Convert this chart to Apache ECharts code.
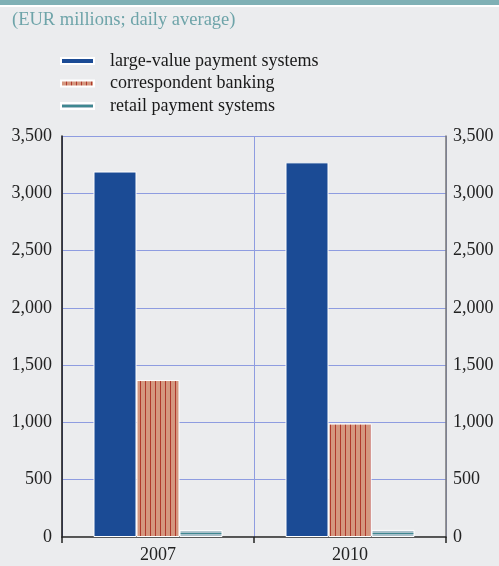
<!DOCTYPE html>
<html>
<head>
<meta charset="utf-8">
<script src="https://cdn.jsdelivr.net/npm/echarts@6/dist/echarts.min.js"></script>
<style>
  html, body { margin: 0; padding: 0; background: #ebecee; }
  #chart { width: 499px; height: 566px; }
</style>
</head>
<body>
<div id="chart"></div>
<script>
// Daily average values, EUR millions
const years = ['2007', '2010'];
const largeValue = [3190, 3270];
const correspondent = [1370, 990];
const retail = [60, 62];
const seriesNames = ['large-value payment systems', 'correspondent banking', 'retail payment systems'];
const yTicks = { min: 0, max: 3500, step: 500 };

const SERIF = '"Liberation Serif", "DejaVu Serif", serif';
const GRID = '#8e9ce0';

// vertical red stripes on salmon fill
function stripePattern() {
  const c = document.createElement('canvas');
  c.width = 5; c.height = 4;
  const g = c.getContext('2d');
  g.fillStyle = '#d4977f';
  g.fillRect(0, 0, 5, 4);
  g.fillStyle = '#b0392c';
  g.fillRect(0, 0, 1, 4);
  return { image: c, repeat: 'repeat' };
}

// light grey-blue fill with a teal rule through the middle
const retailFill = {
  type: 'linear', x: 0, y: 0, x2: 0, y2: 1,
  colorStops: [
    { offset: 0, color: '#a9c0ca' },
    { offset: 0.42, color: '#a9c0ca' },
    { offset: 0.42, color: '#3e8790' },
    { offset: 0.62, color: '#3e8790' },
    { offset: 0.62, color: '#a9c0ca' },
    { offset: 1, color: '#a9c0ca' }
  ]
};

const nLines = (yTicks.max - yTicks.min) / yTicks.step + 1;
const hLineColors = Array.from({ length: nLines }, (_, i) => i === 0 ? '#ffffff' : GRID);

const fmt = v => v.toLocaleString('en-US');

const chart = echarts.init(document.getElementById('chart'), null, { renderer: 'canvas' });

chart.setOption({
  backgroundColor: '#ebecee',
  animation: false,
  graphic: [
    { type: 'rect', shape: { x: 0, y: 0, width: 499, height: 5 }, style: { fill: '#7fb0b5' } },
    { type: 'rect', shape: { x: 0, y: 5, width: 499, height: 2 }, style: { fill: '#ffffff' } }
  ],
  title: {
    text: '(EUR millions; daily average)',
    left: 7, top: 6,
    textStyle: { fontFamily: SERIF, fontSize: 18.5, fontWeight: 'normal', color: '#6ea4a9' }
  },
  legend: {
    orient: 'vertical',
    left: 60, top: 52,
    padding: 0,
    itemWidth: 33, itemHeight: 6,
    itemGap: 4.5,
    icon: 'rect',
    textStyle: { fontFamily: SERIF, fontSize: 18, color: '#1a1a1a', padding: [0, 0, 0, 11], lineHeight: 17 },
    data: seriesNames
  },
  grid: { left: 62, right: 53, top: 136, bottom: 29, containLabel: false },
  xAxis: {
    type: 'category',
    data: years,
    offset: 3,
    axisLine: { lineStyle: { color: '#222', width: 1.5 } },
    axisTick: { show: true, length: 6, lineStyle: { color: '#222', width: 1.5 } },
    axisLabel: { fontFamily: SERIF, fontSize: 18, color: '#222', margin: 6 },
    splitLine: { show: true, lineStyle: { color: GRID, width: 1 } }
  },
  yAxis: [
    {
      type: 'value', min: yTicks.min, max: yTicks.max, interval: yTicks.step,
      position: 'left',
      axisLine: { show: true, lineStyle: { color: '#111', width: 1.5 } },
      axisTick: { show: false },
      axisLabel: { fontFamily: SERIF, fontSize: 18, color: '#222', margin: 10, formatter: fmt },
      splitLine: { show: true, lineStyle: { color: hLineColors, width: 1 } }
    },
    {
      type: 'value', min: yTicks.min, max: yTicks.max, interval: yTicks.step,
      position: 'right',
      axisLine: { show: true, lineStyle: { color: '#777', width: 1.5 } },
      axisTick: { show: false },
      axisLabel: { fontFamily: SERIF, fontSize: 18, color: '#222', margin: 7, formatter: fmt },
      splitLine: { show: false }
    }
  ],
  series: [
    {
      name: seriesNames[0], type: 'bar', data: largeValue,
      barWidth: 43, barGap: '0%',
      itemStyle: { color: '#1b4b95', borderColor: '#ffffff', borderWidth: 1 }
    },
    {
      name: seriesNames[1], type: 'bar', data: correspondent,
      barWidth: 43, barGap: '0%',
      itemStyle: { color: stripePattern(), borderColor: '#ffffff', borderWidth: 1 }
    },
    {
      name: seriesNames[2], type: 'bar', data: retail,
      barWidth: 43, barGap: '0%',
      itemStyle: { color: retailFill, borderColor: '#ffffff', borderWidth: 1 }
    }
  ]
});
</script>
</body>
</html>
